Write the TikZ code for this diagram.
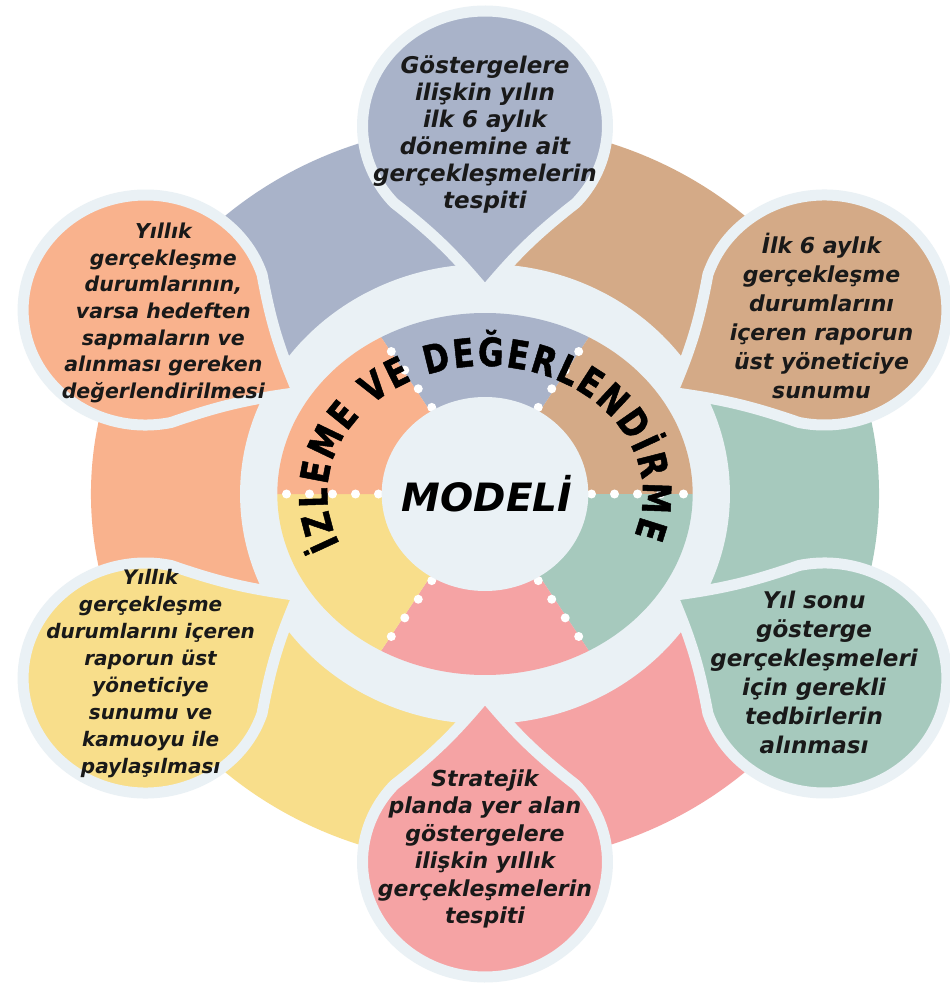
\documentclass[tikz,border=0pt]{standalone}
\usepackage{fontspec}
\setmainfont{DejaVu Sans}
\newfontfamily\titlefont[FakeStretch=0.8,FakeBold=1.2]{DejaVu Sans}
\usepackage{tikz}
\usetikzlibrary{decorations.text}
\definecolor{cblue}{RGB}{169,179,201}
\definecolor{cbrown}{RGB}{212,170,135}
\definecolor{cgreen}{RGB}{166,201,189}
\definecolor{cpink}{RGB}{245,163,164}
\definecolor{cyellow}{RGB}{248,222,139}
\definecolor{corange}{RGB}{249,178,141}
\definecolor{clight}{RGB}{234,241,245}
\newcommand\titlestyle{\titlefont\bfseries\fontsize{39}{39}\selectfont}
\newcommand\bsize[2]{\bfseries\itshape\fontsize{#1}{#2}\selectfont}

\begin{document}
\begin{tikzpicture}[x=1pt,y=1pt,xscale=1.065]
  \tikzstyle{bubble}=[draw=clight, line width=11pt, line join=round]
  \tikzstyle{btext}=[align=center, inner sep=0pt, text=black!90]
  \tikzstyle{sep}=[white, line width=9pt, line cap=round, dash pattern=on 0pt off 23pt]

  \useasboundingbox[fill=white] (-455.4,-494) rectangle (436.6,494);

  % outer segments
  \foreach \a/\c in {90/cblue,30/cbrown,-30/cgreen,-90/cpink,-150/cyellow,150/corange}
    \fill[\c] (\a:228) arc[start angle=\a, end angle=\a+60, radius=228]
      -- (\a+60:370) arc[start angle=\a+60, end angle=\a, radius=370] -- cycle;
  \fill[clight] (0,0) circle (230);

  % drops
  \draw[bubble, fill=cblue, rotate=90] (203,0) to[bend right=6] ([shift={(368,0)}]132:115)
    arc[start angle=132, end angle=-132, radius=115] to[bend right=6] cycle;
  \draw[bubble, fill=cbrown, rotate=30] (203,0) to[bend right=6] ([shift={(368,0)}]132:115)
    arc[start angle=132, end angle=-132, radius=115] to[bend right=6] cycle;
  \draw[bubble, fill=cgreen, rotate=-30] (203,0) to[bend right=6] ([shift={(368,0)}]132:115)
    arc[start angle=132, end angle=-132, radius=115] to[bend right=6] cycle;
  \draw[bubble, fill=cpink, rotate=-90] (203,0) to[bend right=6] ([shift={(368,0)}]132:115)
    arc[start angle=132, end angle=-132, radius=115] to[bend right=6] cycle;
  \draw[bubble, fill=cyellow, rotate=-150] (203,0) to[bend right=6] ([shift={(368,0)}]132:115)
    arc[start angle=132, end angle=-132, radius=115] to[bend right=6] cycle;
  \draw[bubble, fill=corange, rotate=150] (203,0) to[bend right=6] ([shift={(368,0)}]132:115)
    arc[start angle=132, end angle=-132, radius=115] to[bend right=6] cycle;

  % inner ring
  \fill[cblue] (0,0) -- (60:195 and 181) arc[start angle=60, end angle=120, x radius=195, y radius=181] -- cycle;
  \fill[cbrown] (0,0) -- (0:195 and 181) arc[start angle=0, end angle=60, x radius=195, y radius=181] -- cycle;
  \fill[cgreen] (0,0) -- (-60:195 and 181) arc[start angle=-60, end angle=0, x radius=195, y radius=181] -- cycle;
  \fill[cpink] (0,0) -- (-120:195 and 181) arc[start angle=-120, end angle=-60, x radius=195, y radius=181] -- cycle;
  \fill[cyellow] (0,0) -- (180:195 and 181) arc[start angle=180, end angle=240, x radius=195, y radius=181] -- cycle;
  \fill[corange] (0,0) -- (120:195 and 181) arc[start angle=120, end angle=180, x radius=195, y radius=181] -- cycle;
  \foreach \a in {0,60,...,300}
    \draw[sep] (\a:100) -- (\a:193 and 179);
  \fill[clight] (0,0) circle (97);

  \node[font=\bsize{39}{39}] (M) at (2,0) {MODELİ};
  \path[decorate, decoration={text along path, text={|\titlestyle|İZLEME VE DEĞERLENDİRME},
      text align={fit to path}}]
    (203:148 and 128) arc[start angle=203, end angle=-19, x radius=148, y radius=128];

  \node[btext, font=\bsize{23}{27}] (1) at (0,360) {Göstergelere\\ilişkin yılın\\ilk 6 aylık\\dönemine ait\\gerçekleşmelerin\\tespiti};
  \node[btext, font=\bsize{22}{29}] (2) at (316,178) {İlk 6 aylık\\gerçekleşme\\durumlarını\\içeren raporun\\üst yöneticiye\\sunumu};
  \node[btext, font=\bsize{23}{29}] (3) at (309,-178) {Yıl sonu\\gösterge\\gerçekleşmeleri\\için gerekli\\tedbirlerin\\alınması};
  \node[btext, font=\bsize{22}{27.5}] (4) at (0,-355) {Stratejik\\planda yer alan\\göstergelere\\ilişkin yıllık\\gerçekleşmelerin\\tespiti};
  \node[btext, font=\bsize{20}{27}] (5) at (-314,-180) {Yıllık\\gerçekleşme\\durumlarını içeren\\raporun üst\\yöneticiye\\sunumu ve\\kamuoyu ile\\paylaşılması};
  \node[btext, font=\bsize{20.5}{26.7}] (6) at (-302,181) {Yıllık\\gerçekleşme\\durumlarının,\\varsa hedeften\\sapmaların ve\\alınması gereken\\değerlendirilmesi};
\end{tikzpicture}
\end{document}
